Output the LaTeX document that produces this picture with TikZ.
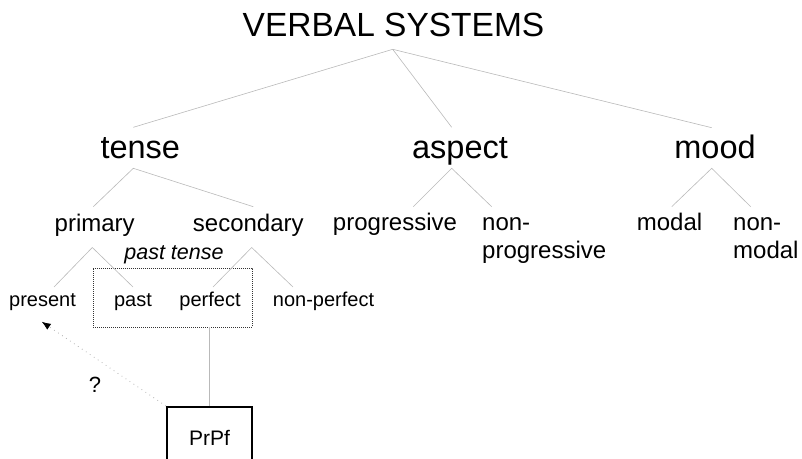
\documentclass[tikz,border=0pt]{standalone}
\usepackage{fontspec}
\setmainfont{Liberation Sans}
\usetikzlibrary{arrows.meta}
\newcommand\fsz[2]{\fontsize{#1}{#2}\selectfont}
\begin{document}
\begin{tikzpicture}[x=1pt,y=-1pt,
  lbl/.style={inner sep=0pt, anchor=base},
  lblw/.style={inner sep=0pt, anchor=base west},
  top/.style={font=\fsz{33.5}{40}},
  lvltwo/.style={font=\fsz{32.5}{38}},
  lvlthree/.style={font=\fsz{24}{28.3}},
  lvlfour/.style={font=\fsz{20}{24}},
  branch/.style={draw=gray!55, line width=0.6pt},
  groupbox/.style={draw=black!80, line width=0.8pt, dash pattern=on 0.8pt off 1.2pt, minimum width=159, minimum height=59, inner sep=0pt},
  formbox/.style={draw=black, line width=2pt, minimum width=85, minimum height=61, inner sep=0pt, font=\fsz{21}{25}},
  hint/.style={draw=gray!60, line width=0.8pt, dash pattern=on 0.8pt off 4pt, -{Latex[black,length=9pt,width=7pt]}}
]
\path[use as bounding box] (0,0) rectangle (802,458);
\clip (0,0) rectangle (802,458);

% labels
\node[lbl, top] (vs) at (393.5,36.7) {VERBAL SYSTEMS};
\node[lbl, lvltwo] (tense) at (140.3,158.3) {tense};
\node[lbl, lvltwo] (aspect) at (460,158.3) {aspect};
\node[lbl, lvltwo] (mood) at (715,158.3) {mood};

\node[lbl, lvlthree] (primary) at (94.7,231) {primary};
\node[lbl, lvlthree] (secondary) at (248.3,231) {secondary};
\node[lbl, lvlthree] (progressive) at (395,230) {progressive};
\node[lblw, lvlthree] (nonprog) at (482,230) {\begin{tabular}[t]{@{}l@{}}non-\\progressive\end{tabular}};
\node[lbl, lvlthree] (modal) at (669.5,230) {modal};
\node[lblw, lvlthree] (nonmodal) at (733,230) {\begin{tabular}[t]{@{}l@{}}non-\\modal\end{tabular}};

\node[lbl, font=\fsz{21.5}{25}\itshape] (pasttense) at (174,259) {past tense};

\node[lbl, lvlfour] (present) at (42.5,306) {present};
\node[lbl, lvlfour] (past) at (133,306) {past};
\node[lbl, lvlfour] (perfect) at (210,306) {perfect};
\node[lbl, lvlfour] (nonperfect) at (323.5,306) {non-perfect};

\node[groupbox] (ptbox) at (172.7,297.5) {};
\node[formbox] (prpf) at (209.5,437.5) {PrPf};
\node[inner sep=0pt, font=\fsz{22}{26}] (query) at (95,385) {?};

% branch points
\coordinate (vs-b) at (392.7,49.3);
\coordinate (tense-t) at (133.3,127.3);
\coordinate (aspect-t) at (451.7,127.3);
\coordinate (mood-t) at (711.7,127.7);
\coordinate (tense-b) at (133.3,168.3);
\coordinate (primary-t) at (93.3,206.7);
\coordinate (secondary-t) at (253.3,206.7);
\coordinate (aspect-b) at (451.7,168.3);
\coordinate (progressive-t) at (413.3,206.7);
\coordinate (nonprog-t) at (491.7,206.7);
\coordinate (mood-b) at (711.7,168.3);
\coordinate (modal-t) at (671.7,206.7);
\coordinate (nonmodal-t) at (750.7,206.7);
\coordinate (primary-b) at (92.3,247.5);
\coordinate (present-t) at (54,287);
\coordinate (past-t) at (133,287);
\coordinate (secondary-b) at (251.7,247.5);
\coordinate (perfect-t) at (213,287);
\coordinate (nonperfect-t) at (293,287);
\coordinate (present-b) at (41.7,321.7);

% tree branches
\draw[branch] (tense-t) -- (vs-b) -- (mood-t);
\draw[branch] (vs-b) -- (aspect-t);
\draw[branch] (primary-t) -- (tense-b) -- (secondary-t);
\draw[branch] (progressive-t) -- (aspect-b) -- (nonprog-t);
\draw[branch] (modal-t) -- (mood-b) -- (nonmodal-t);
\draw[branch] (present-t) -- (primary-b) -- (past-t);
\draw[branch] (perfect-t) -- (secondary-b) -- (nonperfect-t);

% PrPf link
\draw[branch] (prpf.north) -- (prpf.north |- ptbox.south);
\draw[hint] (prpf.north west) -- (present-b);
\end{tikzpicture}
\end{document}
